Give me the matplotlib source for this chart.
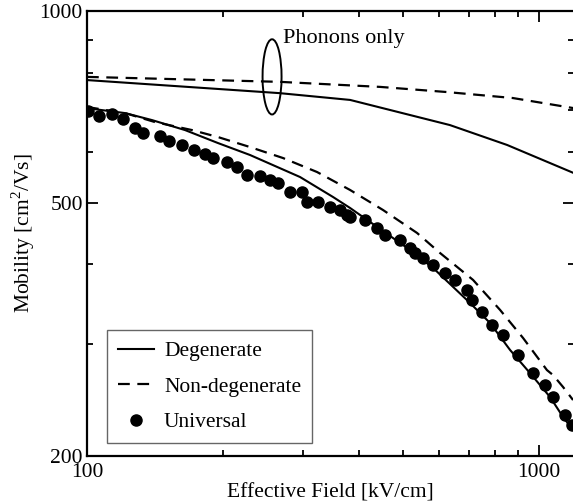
import numpy as np
import matplotlib
matplotlib.use("Agg")
import matplotlib.pyplot as plt
from matplotlib.patches import Ellipse
from matplotlib.ticker import FixedLocator, NullFormatter, FixedFormatter

plt.rcParams["font.family"] = ["Liberation Serif", "DejaVu Serif"]
plt.rcParams["mathtext.fontset"] = "custom"
plt.rcParams["mathtext.rm"] = "Liberation Serif"
plt.rcParams["font.size"] = 15.5

# phonon-limited curves (upper pair)
ph_field = [100, 267, 382, 635, 850, 1190]
ph_deg = [779, 743, 725, 662, 616, 557]
ph_nd_field = [100, 267, 445, 625, 875, 1190]
ph_nondeg = [788, 774, 760, 746, 730, 704]

# total mobility curves (lower pair)
deg_field = [100, 121.4, 139.3, 164.8, 194.9, 229.4, 296.0, 350.1, 381.9, 518.4,
             582.8, 703.5, 779.0, 862.7, 955.2, 1058, 1130, 1189]
deg_mob = [703.7, 691.3, 674.0, 650.1, 620.3, 594.1, 548.6, 510.4, 490.5, 421.4,
           394.9, 347.9, 323.6, 293.5, 269.9, 247.5, 230.3, 219.8]
nd_field = [100, 121.4, 141.4, 170.8, 194.9, 229.4, 271.4, 322.8, 381.9, 451.7,
            537.2, 603.9, 714.5, 820.0, 921.8, 1041, 1074, 1130, 1189]
nd_mob = [706.7, 691.3, 669.2, 650.1, 633.9, 611.4, 587.6, 558.6, 523.5, 486.9,
          448.1, 416.8, 378.1, 339.2, 306.5, 272.9, 268.0, 256.7, 244.9]

# universal mobility points
univ_field = [100.5, 106.3, 113.6, 120.1, 127.7, 133.0, 145.0, 151.8, 162.3, 172.5,
              182.4, 190.0, 204.0, 214.7, 225.9, 241.4, 254.1, 264.6, 281.3, 299.0,
              306.7, 324.4, 344.9, 362.9, 376.1, 381.9, 412.1, 438.1, 456.3, 492.6,
              518.4, 531.8, 553.9, 582.8, 619.4, 652.0, 692.9, 710.8, 747.9, 787.0,
              832.3, 898.4, 969.8, 1031, 1074, 1141, 1183]
univ_mob = [696.6, 683.9, 688.9, 676.6, 654.8, 643.1, 636.2, 624.8, 615.8, 604.8,
            596.2, 587.6, 579.1, 568.9, 552.6, 550.6, 542.8, 536.9, 519.7, 519.7,
            501.2, 501.2, 492.2, 486.9, 478.2, 474.8, 469.6, 456.2, 444.9, 436.9,
            424.4, 416.8, 409.4, 399.1, 387.8, 378.1, 364.7, 351.7, 336.7, 321.2,
            309.8, 288.2, 269.9, 258.5, 247.5, 232.0, 223.8]

fig = plt.figure(figsize=(5.73, 5.03), dpi=100)
ax = fig.add_axes([0.1518, 0.0934, 0.8500, 0.8847])

dash = (5.3, 3.4)
ax.plot(ph_field, ph_deg, color="black", lw=1.5)
ax.plot(ph_nd_field, ph_nondeg, color="black", lw=1.6, dashes=dash)
ax.plot(deg_field, deg_mob, color="black", lw=1.5, label="Degenerate")
ax.plot(nd_field, nd_mob, color="black", lw=1.6, dashes=dash, label="Non-degenerate")
ax.plot(univ_field, univ_mob, "o", color="black", ms=8, label="Universal")

ax.set_xscale("log")
ax.set_yscale("log")
ax.set_xlim(100, 1195)
ax.set_ylim(200, 1000)

ax.xaxis.set_major_locator(FixedLocator([100, 1000]))
ax.xaxis.set_major_formatter(FixedFormatter(["100", "1000"]))
ax.xaxis.set_minor_locator(FixedLocator([200, 300, 400, 500, 600, 700, 800, 900]))
ax.xaxis.set_minor_formatter(NullFormatter())
ax.yaxis.set_major_locator(FixedLocator([200, 500, 1000]))
ax.yaxis.set_major_formatter(FixedFormatter(["200", "500", "1000"]))
ax.yaxis.set_minor_locator(FixedLocator([300, 400, 600, 700, 800, 900]))
ax.yaxis.set_minor_formatter(NullFormatter())

ax.tick_params(which="both", direction="in", top=True, right=True, width=1.3)
ax.tick_params(which="major", length=8, pad=3, labelsize=15.5)
ax.tick_params(axis="x", which="major", pad=5)
ax.tick_params(which="minor", length=4)
for s in ax.spines.values():
    s.set_linewidth(1.6)

ax.set_xlabel("Effective Field [kV/cm]", fontsize=15.5, labelpad=1)
ax.set_ylabel("Mobility [cm$^{\\mathrm{2}}$/Vs]", fontsize=15.5, labelpad=2)

ell = Ellipse((0.380, 0.852), 0.039, 0.169, transform=ax.transAxes,
              fill=False, edgecolor="black", lw=1.4)
ax.add_patch(ell)
ax.text(0.403, 0.939, "Phonons only", transform=ax.transAxes, fontsize=16,
        ha="left", va="center")

leg = ax.legend(loc="lower left", bbox_to_anchor=(0.041, 0.029), borderaxespad=0,
                fancybox=False, edgecolor="#666666", fontsize=15.5,
                handlelength=1.7, handletextpad=0.45, labelspacing=0.72,
                borderpad=0.5, framealpha=1)
leg.get_frame().set_linewidth(1.0)

fig.savefig("out.png", dpi=100)
